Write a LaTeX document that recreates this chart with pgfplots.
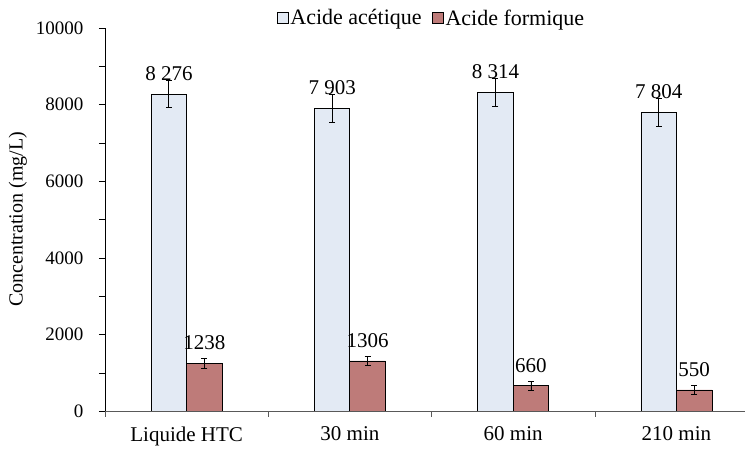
\documentclass[border=0pt]{standalone}
\usepackage{pgfplots}
\usepackage{pgfplotstable}
\pgfplotsset{compat=1.18}
\usepackage{fontspec}
\setmainfont{Liberation Serif}

\definecolor{acet}{RGB}{227,234,244}
\definecolor{form}{RGB}{190,123,121}

% x, valeur, ecart, etiquette
\pgfplotstableread[col sep=comma]{
x,y,e,lab
0,8276,350,8 276
1,7903,370,7 903
2,8314,360,8 314
3,7804,370,7 804
}\acetique
\pgfplotstableread[col sep=comma]{
x,y,e,lab
0,1238,130,1238
1,1306,125,1306
2,660,120,660
3,550,110,550
}\formique

\begin{document}
\begin{tikzpicture}
\useasboundingbox (-105pt,-39pt) rectangle (640pt,411pt);
\begin{axis}[
  scale only axis, width=640pt, height=383pt,
  ybar=0pt, bar width=35.5pt,
  xmin=-0.5, xmax=3.42, ymin=0, ymax=10000,
  axis x line=bottom, axis y line=left,
  axis line style={-}, x axis line style={black!65},
  tick align=outside, major tick length=6pt, minor tick length=6pt,
  xtick={-0.5,0.5,1.5,2.5}, xticklabels={},
  xtick style={black!65},
  extra x ticks={0,1,2,3},
  extra x tick labels={Liquide HTC,30 min,60 min,210 min},
  extra x tick style={major tick length=0pt},
  ytick={0,2000,...,10000}, minor y tick num=1,
  ytick style={black},
  scaled y ticks=false,
  /pgf/number format/1000 sep={},
  /pgf/number format/assume math mode=true,
  yticklabel style={font=\fontsize{19}{19}\selectfont, xshift=-12pt},
  xticklabel style={font=\fontsize{21}{21}\selectfont, yshift=-12pt},
  ylabel={Concentration (mg/L)},
  every axis y label/.style={at={(axis description cs:-0.136,0.5)}, rotate=90, anchor=center, font=\fontsize{20}{20}\selectfont},
  legend style={at={(0.51,1.026)}, anchor=center, draw=none, fill=none,
    legend columns=2, font=\fontsize{22}{22}\selectfont,
    /tikz/every even column/.append style={column sep=8pt}},
  legend image code/.code={\draw[#1,draw=black,line width=0.8pt] (0pt,-5.5pt) rectangle (11pt,5.5pt);},
  nodes near coords, point meta=explicit symbolic,
  every node near coord/.append style={anchor=south, inner sep=0pt, yshift=13pt, font=\fontsize{21}{21}\selectfont, black},
  error bars/y dir=both, error bars/y explicit,
  error bars/error bar style={black, line width=0.8pt},
  error bars/error mark options={rotate=90, mark size=3pt, black, line width=0.8pt},
]
\addplot[fill=acet, draw=black, line width=0.8pt] table[x=x, y=y, y error=e, meta=lab] {\acetique};
\addlegendentry{Acide acétique}
\addplot[fill=form, draw=black, line width=0.8pt] table[x=x, y=y, y error=e, meta=lab] {\formique};
\addlegendentry{Acide formique}
\end{axis}
\end{tikzpicture}
\end{document}
